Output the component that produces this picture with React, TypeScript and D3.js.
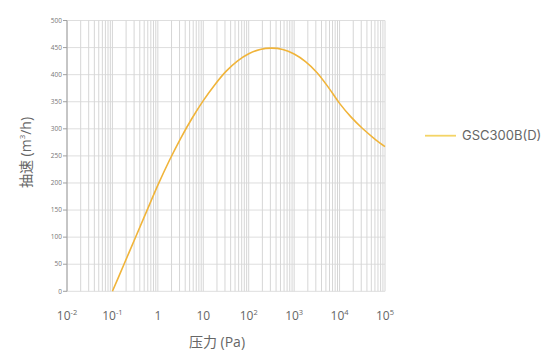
import React from "react";
import * as d3 from "d3";

const pressure = [0.1, 0.178, 0.316, 0.562, 1, 1.78, 3.16, 5.62, 10, 17.8, 31.6, 56.2, 100, 178, 316, 562, 1000, 1778, 3162, 5623, 10000, 17783, 31623, 56234, 100000];
const speed = [0, 49, 98, 147, 196, 241, 282, 319, 352, 381, 406, 425, 438.5, 446.5, 449, 446.5, 438, 424, 404, 377, 347, 322, 301, 283, 267];
const yTicks = [0, 50, 100, 150, 200, 250, 300, 350, 400, 450, 500];
const xDecades = [-2, -1, 0, 1, 2, 3, 4, 5];
const seriesName = "GSC300B(D)";
const xTitle = "压力 (Pa)";
const yTitleA = "抽速 (m";
const yTitleB = "3";
const yTitleC = "/h)";

const W = 554, H = 361;
const L = 67, R = 385, T = 20.5, B = 291.3;
const FONT = "'Open Sans', 'Noto Sans CJK SC', sans-serif";

export default function App() {
  const x = d3.scaleLog().domain([0.01, 100000]).range([L, R]);
  const y = d3.scaleLinear().domain([0, 500]).range([B, T]);
  const minor: number[] = [];
  for (let e = -2; e < 5; e++) for (let m = 1; m < 10; m++) minor.push(m * Math.pow(10, e));
  minor.push(100000);
  const pts = pressure.map((p, i) => [p, speed[i]] as [number, number]);
  const line = d3.line<[number, number]>().x(d => x(d[0])).y(d => y(d[1])).curve(d3.curveCatmullRom.alpha(0.5));

  return (
    <svg width={W} height={H} style={{ position: "absolute", left: 0, top: 0, background: "#fff" }} fontFamily={FONT}>
      {yTicks.map(t => (
        <line key={"h" + t} x1={L} x2={R} y1={y(t)} y2={y(t)} stroke="#dedede" strokeWidth={1} />
      ))}
      {minor.map((v, i) => (
        <line key={"v" + i} x1={x(v)} x2={x(v)} y1={T} y2={B} stroke="#d6d6d6" strokeWidth={1} />
      ))}
      <line x1={L} x2={L} y1={T} y2={B} stroke="#a0a0a0" strokeWidth={1} />
      {yTicks.map(t => (
        <g key={"yt" + t}>
          <line x1={L - 4} x2={L} y1={y(t)} y2={y(t)} stroke="#a0a0a0" />
          <text x={L - 5} y={y(t)} dy="0.35em" textAnchor="end" fontSize={6.5} fill="#777">{t}</text>
        </g>
      ))}
      {xDecades.map(e => {
        const px = x(Math.pow(10, e));
        if (e === 0) return <text key={"xt" + e} x={px} y={320} textAnchor="middle" fontSize={12} fill="#666">1</text>;
        if (e === 1) return <text key={"xt" + e} x={px} y={320} textAnchor="middle" fontSize={12} fill="#666">10</text>;
        return (
          <text key={"xt" + e} x={px} y={320} textAnchor="middle" fontSize={12} fill="#666">
            10<tspan fontSize={7.5} dy={-5}>{e}</tspan>
          </text>
        );
      })}
      <path d={line(pts) || ""} fill="none" stroke="#f0b43a" strokeWidth={1.6} />
      <text x={(L + R) / 2 - 9} y={347} textAnchor="middle" fontSize={14} fill="#666">{xTitle}</text>
      <text transform={`translate(31,152.5) rotate(-90)`} textAnchor="middle" fontSize={14} fill="#666">
        {yTitleA}<tspan fontSize={8} dy={-6}>{yTitleB}</tspan><tspan dy={6}>{yTitleC}</tspan>
      </text>
      <line x1={425} x2={456} y1={135.7} y2={135.7} stroke="#f4d466" strokeWidth={1.8} />
      <text x={462} y={135.7} dy="0.36em" fontSize={13} fill="#666" fontFamily="Inter, 'Open Sans', sans-serif">{seriesName}</text>
    </svg>
  );
}
